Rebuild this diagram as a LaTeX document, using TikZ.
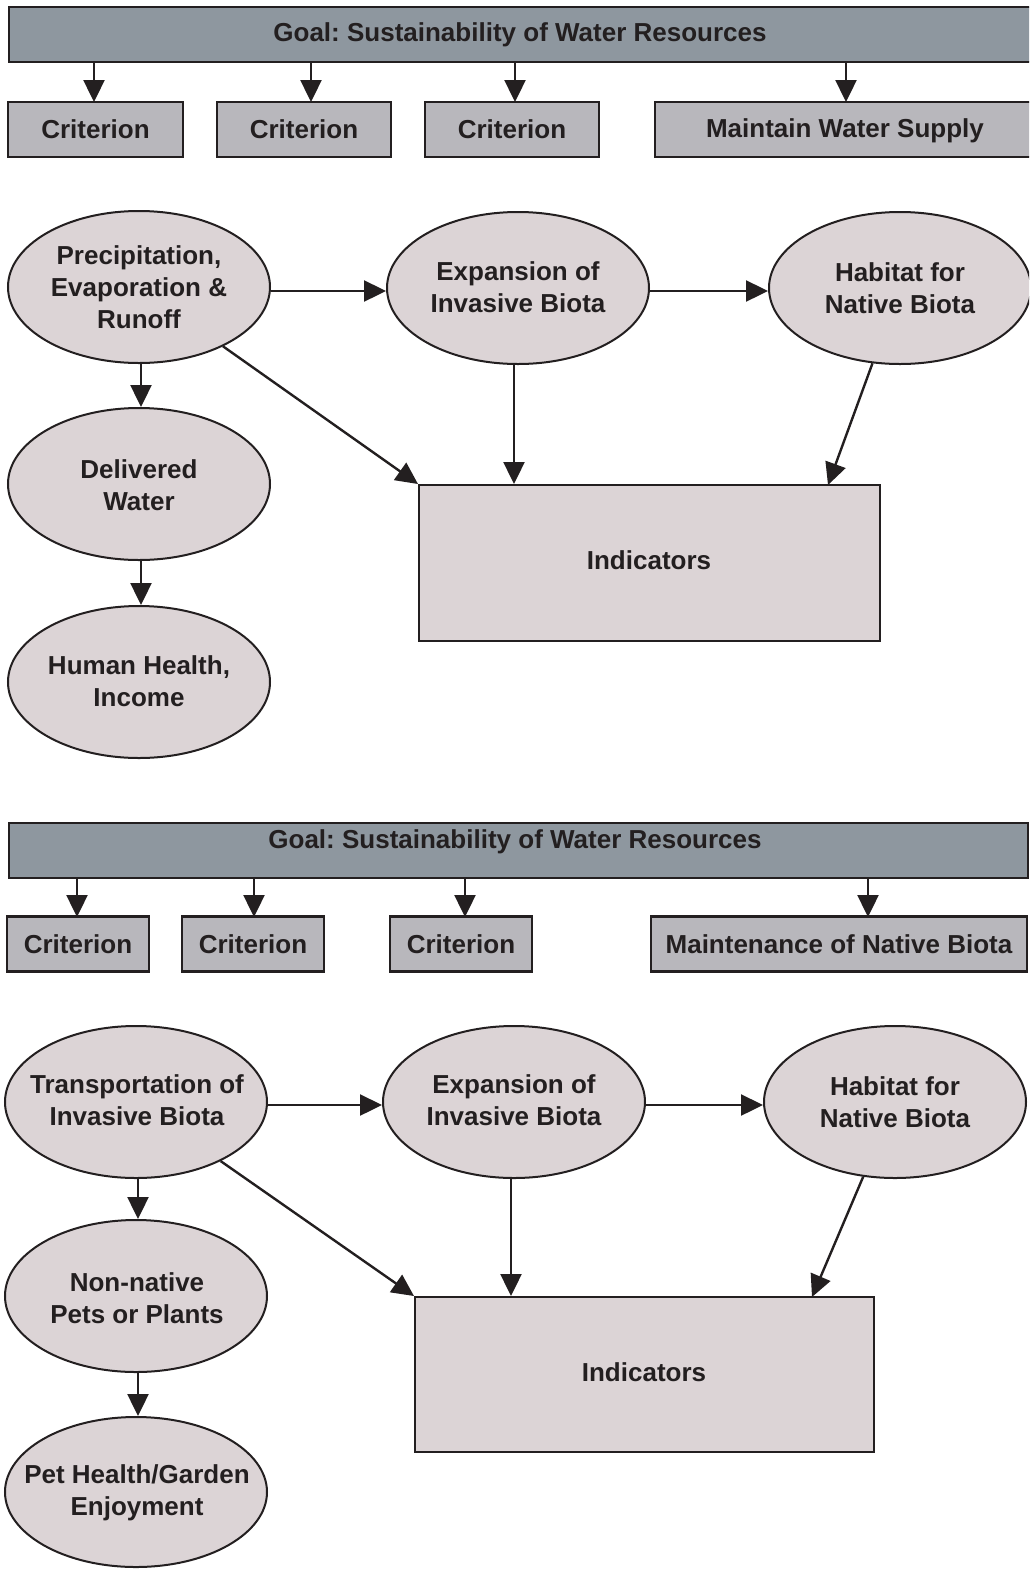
\documentclass[tikz,border=0pt]{standalone}
\usepackage{fontspec}
\setmainfont{Liberation Sans}
\usetikzlibrary{arrows.meta,shapes.geometric}
\definecolor{goalc}{HTML}{8E979F}
\definecolor{critc}{HTML}{B8B7BC}
\definecolor{ellc}{HTML}{DCD4D6}
\definecolor{inkc}{HTML}{231F20}
\frenchspacing
\begin{document}
\begin{tikzpicture}[x=1pt,y=-1pt,
  every node/.style={font=\fontsize{26}{32}\selectfont\bfseries, text=inkc},
  goalbar/.style={draw=inkc, line width=2.4pt, fill=goalc, rectangle, inner sep=0pt},
  critbox/.style={draw=inkc, line width=2.4pt, fill=critc, rectangle, inner sep=0pt, minimum height=55pt},
  oval/.style={draw=inkc, line width=2pt, fill=ellc, ellipse, inner sep=0pt, minimum width=262pt, minimum height=152pt},
  ovaltext/.style={align=center, inner sep=0pt},
  indbox/.style={draw=inkc, line width=2pt, fill=ellc, rectangle, inner sep=0pt},
  arr/.style={draw=inkc, line width=2.4pt, -{Triangle[length=22pt,width=21pt]}}]
\useasboundingbox (0,0) rectangle (1029,1569);
\clip (0,0) rectangle (1029,1569);
% ---------- top panel ----------
\node[goalbar, minimum width=1030pt, minimum height=55pt, anchor=north west] (g1) at (8,6) {};
\node (g1t) at (520,35) {Goal: Sustainability of Water Resources};
\node[critbox, minimum width=175pt] (c11) at (95.5,129.5) {Criterion};
\node[critbox, minimum width=174pt] (c12) at (304,129.5) {Criterion};
\node[critbox, minimum width=174pt] (c13) at (512,129.5) {Criterion};
\node[critbox, minimum width=385pt, anchor=west] (c14) at (654,129.5) {};
\node (c14t) at (845,131) {Maintain Water Supply};
\draw[arr] (g1.south -| 94,0) -- (94,102);
\draw[arr] (g1.south -| 311,0) -- (311,102);
\draw[arr] (g1.south -| 515,0) -- (515,102);
\draw[arr] (g1.south -| 846,0) -- (846,102);

\node[oval] (a1) at (139,287) {};
\node[ovaltext] (a1t) at (a1) {Precipitation,\\Evaporation \&\\Runoff};
\node[oval] (a2) at (518,288) {};
\node[ovaltext] (a2t) at (518,287) {Expansion of\\Invasive Biota};
\node[oval] (a3) at (900,288) {};
\node[ovaltext] (a3t) at (900,288) {Habitat for\\Native Biota};
\node[oval] (a4) at (139,484) {};
\node[ovaltext] (a4t) at (139,485) {Delivered\\Water};
\node[oval] (a5) at (139,682) {};
\node[ovaltext] (a5t) at (139,681) {Human Health,\\Income};
\node[indbox, minimum width=461pt, minimum height=156pt] (i1) at (649.5,563) {};
\node (i1t) at (649,560) {Indicators};
\coordinate (t1) at (828,485);
\draw[arr] (a1.east |- 0,291) -- (a2.west |- 0,291);
\draw[arr] (a2.east |- 0,291) -- (a3.west |- 0,291);
\draw[arr] (a1.south -| 141,0) -- (a4.north -| 141,0);
\draw[arr] (a4.south -| 141,0) -- (a5.north -| 141,0);
\draw[arr] (a1) -- (i1.north west);
\draw[arr] (a2.south -| 514,0) -- (i1.north -| 514,0);
\draw[arr] (a3) -- (t1);

% ---------- bottom panel ----------
\node[goalbar, minimum width=1019pt, minimum height=55pt, anchor=north west] (g2) at (8,822) {};
\node (g2t) at (515,842) {Goal: Sustainability of Water Resources};
\node[critbox, minimum width=142pt] (c21) at (78,944) {Criterion};
\node[critbox, minimum width=142pt] (c22) at (253,944) {Criterion};
\node[critbox, minimum width=142pt] (c23) at (461,944) {Criterion};
\node[critbox, minimum width=376pt] (c24) at (839,944) {Maintenance of Native Biota};
\draw[arr] (g2.south -| 77,0) -- (77,917);
\draw[arr] (g2.south -| 254,0) -- (254,917);
\draw[arr] (g2.south -| 465,0) -- (465,917);
\draw[arr] (g2.south -| 868,0) -- (868,917);

\node[oval] (b1) at (136,1102) {};
\node[ovaltext] (b1t) at (137,1100) {Transportation of\\Invasive Biota};
\node[oval] (b2) at (514,1102) {};
\node[ovaltext] (b2t) at (514,1100) {Expansion of\\Invasive Biota};
\node[oval] (b3) at (895,1102) {};
\node[ovaltext] (b3t) at (895,1102) {Habitat for\\Native Biota};
\node[oval] (b4) at (136,1296) {};
\node[ovaltext] (b4t) at (137,1298) {Non-native\\Pets or Plants};
\node[oval, minimum height=150pt] (b5) at (136,1492) {};
\node[ovaltext] (b5t) at (137,1493) {Pet Health/Garden\\Enjoyment};
\node[indbox, minimum width=459pt, minimum height=155pt] (i2) at (644.5,1374.5) {};
\node (i2t) at (644,1372) {Indicators};
\coordinate (t2) at (812,1297);
\draw[arr] (b1.east |- 0,1105) -- (b2.west |- 0,1105);
\draw[arr] (b2.east |- 0,1105) -- (b3.west |- 0,1105);
\draw[arr] (b1.south -| 138,0) -- (b4.north -| 138,0);
\draw[arr] (b4.south -| 138,0) -- (b5.north -| 138,0);
\draw[arr] (b1) -- (i2.north west);
\draw[arr] (b2.south -| 511,0) -- (i2.north -| 511,0);
\draw[arr] (b3) -- (t2);
\end{tikzpicture}
\end{document}
